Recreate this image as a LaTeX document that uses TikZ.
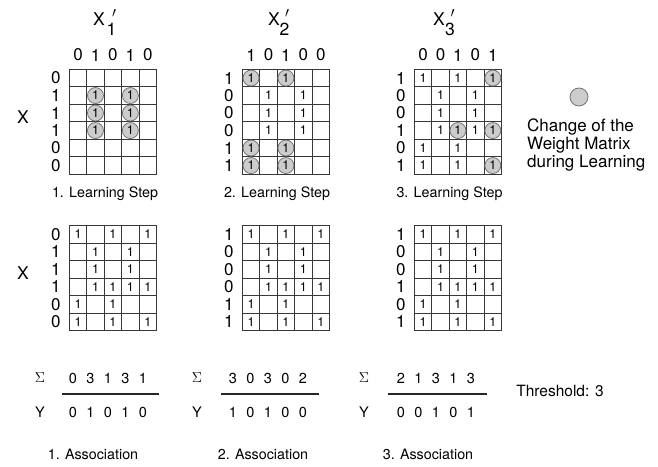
\documentclass[tikz,border=0pt]{standalone}
\usepackage{fontspec}
\setmainfont{TeX Gyre Heros}
\begin{document}
\begin{tikzpicture}[x=1pt,y=-1pt,
  gridline/.style={draw=black!78, line width=1pt},
  lbl/.style={font=\fontsize{17}{18}\selectfont, inner sep=0pt},
  hx/.style={font=\fontsize{17.5}{19}\selectfont, inner sep=0pt},
  cellone/.style={font=\fontsize{12.5}{14}\selectfont, inner sep=0pt},
  chg/.style={circle, draw=black!55, fill=black!20, line width=0.8pt, minimum size=16pt, inner sep=0pt, font=\fontsize{12.5}{14}\selectfont},
  capt/.style={font=\fontsize{14.3}{16}\selectfont, inner sep=0pt},
  sumd/.style={font=\fontsize{14.5}{16}\selectfont, inner sep=0pt},
  sig/.style={font=\fontsize{15}{16}\selectfont, inner sep=0pt},
  legtext/.style={font=\fontsize{17}{18}\selectfont, inner sep=0pt, align=left},
  sumline/.style={draw=black!85, line width=1.3pt}
]
\useasboundingbox (0,0) rectangle (658,466);
\def\gcw{17.45}
\def\gch{17.5}
\newcommand\wmgridlines[2]{%
  \begin{scope}[shift={(#1,#2)}]
    \foreach \i in {0,...,5} \draw[gridline] (\i*\gcw,0) -- (\i*\gcw,6*\gch);
    \foreach \j in {0,...,6} \draw[gridline] (0,\j*\gch) -- (5*\gcw,\j*\gch);
  \end{scope}}
\newcommand\wmones[4]{%
  \foreach \r/\c in {#4} \node[cellone] (#1-\r-\c) at ({#2+(\c-0.5)*\gcw},{#3+(\r-0.5)*\gch}) {1};}
\newcommand\wmchg[4]{%
  \foreach \r/\c in {#4} \node[chg] (#1-\r-\c) at ({#2+(\c-0.5)*\gcw},{#3+(\r-0.5)*\gch}) {1};}
\newcommand\wmcols[4]{%
  \foreach \v [count=\k] in {#4} \node[lbl] (#1-col\k) at ({#2+(\k-0.5)*\gcw},#3) {\v};}
\newcommand\wmrows[4]{%
  \foreach \v [count=\k] in {#4} \node[lbl] (#1-row\k) at ({#2-13.5},{#3+(\k-0.5)*\gch}) {\v};}

% ---------- headers
\node[hx] (h1) at (99,19) {X};
\node[hx] (h1s) at (111.5,29.5) {1};
\node[inner sep=0pt, font=\fontsize{15}{16}\selectfont] (h1p) at (114,13) {$\prime$};
\node[hx] (h2) at (274,19) {X};
\node[hx] (h2s) at (284.5,29.5) {2};
\node[inner sep=0pt, font=\fontsize{15}{16}\selectfont] (h2p) at (287,13) {$\prime$};
\node[hx] (h3) at (439,19) {X};
\node[hx] (h3s) at (450,29.5) {3};
\node[inner sep=0pt, font=\fontsize{15}{16}\selectfont] (h3p) at (452.5,13) {$\prime$};

% ---------- top grids
\wmcols{ta}{69.3}{55}{0,1,0,1,0}
\wmcols{tb}{242.3}{55}{1,0,1,0,0}
\wmcols{tc}{414.3}{55}{0,0,1,0,1}
\wmrows{ta}{69.3}{69.3}{0,1,1,1,0,0}
\wmrows{tb}{242.3}{69.3}{1,0,0,0,1,1}
\wmrows{tc}{414.3}{69.3}{1,0,0,1,0,1}
\wmgridlines{69.3}{69.3}
\wmgridlines{242.3}{69.3}
\wmgridlines{414.3}{69.3}
\wmchg{ta}{69.3}{69.3}{2/2,3/2,4/2,2/4,3/4,4/4}
\wmones{tb}{242.3}{69.3}{2/2,3/2,4/2,2/4,3/4,4/4}
\wmchg{tb}{242.3}{69.3}{1/1,1/3,5/1,5/3,6/1,6/3}
\wmones{tc}{414.3}{69.3}{1/1,1/3,2/2,2/4,3/2,3/4,4/2,4/4,5/1,5/3,6/1,6/3}
\wmchg{tc}{414.3}{69.3}{1/5,4/3,4/5,6/5}
\node[hx] (xtop) at (23,117) {X};

\node[capt] (cap1) at (105,194) {1. Learning Step};
\node[capt] (cap2) at (277,194) {2. Learning Step};
\node[capt] (cap3) at (449.5,194) {3. Learning Step};

% legend
\node[chg, minimum size=18pt] (legc) at (579,97) {};
\node[legtext, anchor=north west] (legt) at (527,119) {Change of the\\Weight Matrix\\during Learning};

% ---------- bottom grids
\wmrows{ba}{69.3}{225.7}{0,1,1,1,0,0}
\wmrows{bb}{242.3}{225.7}{1,0,0,0,1,1}
\wmrows{bc}{414.3}{225.7}{1,0,0,1,0,1}
\wmgridlines{69.3}{225.7}
\wmgridlines{242.3}{225.7}
\wmgridlines{414.3}{225.7}
\wmones{ba}{69.3}{225.7}{1/1,1/3,1/5,2/2,2/4,3/2,3/4,4/2,4/3,4/4,4/5,5/1,5/3,6/1,6/3,6/5}
\wmones{bb}{242.3}{225.7}{1/1,1/3,1/5,2/2,2/4,3/2,3/4,4/2,4/3,4/4,4/5,5/1,5/3,6/1,6/3,6/5}
\wmones{bc}{414.3}{225.7}{1/1,1/3,1/5,2/2,2/4,3/2,3/4,4/2,4/3,4/4,4/5,5/1,5/3,6/1,6/3,6/5}
\node[hx] (xbot) at (23,273) {X};

% ---------- sums
\node[sig] (s1) at (40,378) {$\Sigma$};
\node[sig] (s2) at (197,378) {$\Sigma$};
\node[sig] (s3) at (364,378) {$\Sigma$};
\node[sumd] (y1) at (40,412) {Y};
\node[sumd] (y2) at (197,412) {Y};
\node[sumd] (y3) at (364,412) {Y};
\foreach \v [count=\k] in {0,3,1,3,1} \node[sumd] (sa\k) at ({73+(\k-1)*17.5},378) {\v};
\foreach \v [count=\k] in {0,1,0,1,0} \node[sumd] (ya\k) at ({73+(\k-1)*17.5},412) {\v};
\foreach \v [count=\k] in {3,0,3,0,2} \node[sumd] (sb\k) at ({233+(\k-1)*17.5},378) {\v};
\foreach \v [count=\k] in {1,0,1,0,0} \node[sumd] (yb\k) at ({233+(\k-1)*17.5},412) {\v};
\foreach \v [count=\k] in {2,1,3,1,3} \node[sumd] (sc\k) at ({401+(\k-1)*17.5},378) {\v};
\foreach \v [count=\k] in {0,0,1,0,1} \node[sumd] (yc\k) at ({401+(\k-1)*17.5},412) {\v};
\coordinate (l1a) at (62,394); \coordinate (l1b) at (159,394);
\coordinate (l2a) at (221,394); \coordinate (l2b) at (319,394);
\coordinate (l3a) at (388,394); \coordinate (l3b) at (487,394);
\draw[sumline] (l1a) -- (l1b);
\draw[sumline] (l2a) -- (l2b);
\draw[sumline] (l3a) -- (l3b);
\node[font=\fontsize{15.5}{17}\selectfont, inner sep=0pt] (thr) at (560,391) {Threshold: 3};

\node[capt] (as1) at (93,454) {1. Association};
\node[capt] (as2) at (263,454) {2. Association};
\node[capt] (as3) at (428,454) {3. Association};
\end{tikzpicture}
\end{document}
